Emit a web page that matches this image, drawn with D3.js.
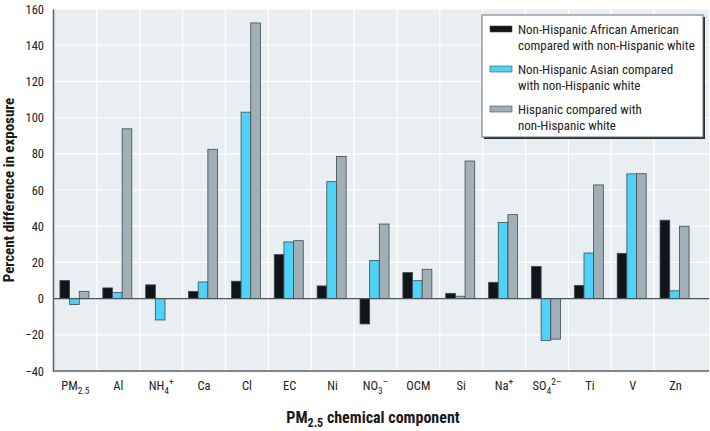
<!DOCTYPE html>
<html>
<head>
<meta charset="utf-8">
<script src="https://cdn.jsdelivr.net/npm/d3@7"></script>
<style>
  body { margin: 0; background: #fff; }
  svg { display: block; }
  text { font-family: "Liberation Sans Narrow", "Arial Narrow", "Roboto Condensed", sans-serif; }
</style>
</head>
<body>
<svg id="chart" width="710" height="431"></svg>
<script>
// ---- data ----
const categories = ["PM2.5", "Al", "NH4+", "Ca", "Cl", "EC", "Ni", "NO3-", "OCM", "Si", "Na+", "SO42-", "Ti", "V", "Zn"];
const seriesNames = [
  "Non-Hispanic African American compared with non-Hispanic white",
  "Non-Hispanic Asian compared with non-Hispanic white",
  "Hispanic compared with non-Hispanic white"
];
const africanAmerican = [10, 5.9, 7.6, 4, 9.6, 24.3, 7, -14, 14.4, 2.9, 9, 17.8, 7.3, 25, 43.3];
const asian = [-3.3, 3.3, -11.8, 9.2, 103, 31.3, 64.6, 21, 9.9, 1.3, 42, -23.2, 25.2, 68.9, 4.3];
const hispanic = [4, 93.8, 0, 82.5, 152.3, 32, 78.5, 41.2, 16.2, 76, 46.4, -22.4, 62.8, 69, 40];
const yTicks = [-40, -20, 0, 20, 40, 60, 80, 100, 120, 140, 160];
const colors = ["#111519", "#4fd2f7", "#a2afb7"];
// tick label parts: [main, sub, sup]
const tickParts = {
  "PM2.5": ["PM", "2.5", ""], "Al": ["Al", "", ""], "NH4+": ["NH", "4", "+"], "Ca": ["Ca", "", ""],
  "Cl": ["Cl", "", ""], "EC": ["EC", "", ""], "Ni": ["Ni", "", ""], "NO3-": ["NO", "3", "\u2013"],
  "OCM": ["OCM", "", ""], "Si": ["Si", "", ""], "Na+": ["Na", "", "+"], "SO42-": ["SO", "4", "2\u2013"],
  "Ti": ["Ti", "", ""], "V": ["V", "", ""], "Zn": ["Zn", "", ""]
};

const svg = d3.select("#chart");
const plot = { left: 53, right: 709, top: 9, bottom: 371 };

const y = d3.scaleLinear().domain([-40, 160]).range([plot.bottom, plot.top]);
const x = d3.scaleBand().domain(categories).range([54, 697]).paddingInner(0).paddingOuter(0);
const xs = d3.scaleBand().domain([0, 1, 2]).range([0, 29]);

// background
svg.append("rect").attr("x", plot.left).attr("y", plot.top)
  .attr("width", plot.right - plot.left).attr("height", plot.bottom - plot.top)
  .attr("fill", "#e9eef3");

// horizontal grid
svg.append("g").selectAll("line").data(yTicks.filter(d => d !== 0 && d !== -40)).join("line")
  .attr("x1", plot.left).attr("x2", plot.right)
  .attr("y1", d => y(d)).attr("y2", d => y(d))
  .attr("stroke", "#ffffff").attr("stroke-width", 1.2);

// vertical grid at band boundaries
svg.append("g").selectAll("line").data(categories.slice(1)).join("line")
  .attr("x1", d => x(d)).attr("x2", d => x(d))
  .attr("y1", plot.top).attr("y2", plot.bottom)
  .attr("stroke", "#ffffff").attr("stroke-width", 1.2);

// bars
const allSeries = [africanAmerican, asian, hispanic];
const barG = svg.append("g");
allSeries.forEach((vals, si) => {
  barG.append("g").selectAll("rect").data(categories.map((c, i) => ({ c, v: vals[i] })).filter(d => d.v !== 0)).join("rect")
    .attr("x", d => x(d.c) + (x.bandwidth() - 29) / 2 - 1 + xs(si))
    .attr("width", xs.bandwidth())
    .attr("y", d => y(Math.max(0, d.v)))
    .attr("height", d => Math.abs(y(d.v) - y(0)))
    .attr("fill", colors[si])
    .attr("stroke", "#3d4a52").attr("stroke-width", 0.8);
});

// zero line
svg.append("line").attr("x1", plot.left).attr("x2", plot.right)
  .attr("y1", y(0)).attr("y2", y(0)).attr("stroke", "#4a5358").attr("stroke-width", 1.2);

// axes lines
const yAxis = d3.axisLeft(y).tickValues(yTicks).tickSize(0).tickPadding(9).tickFormat(d => d < 0 ? "\u2212" + Math.abs(d) : d);
const gy = svg.append("g").attr("transform", `translate(${plot.left},0)`).call(yAxis);
gy.select(".domain").attr("stroke", "#5a6166").attr("stroke-width", 1.5);
gy.selectAll("text").attr("font-size", 12.5).attr("fill", "#222");

svg.append("line").attr("x1", plot.left).attr("x2", plot.right)
  .attr("y1", plot.bottom).attr("y2", plot.bottom).attr("stroke", "#5a6166").attr("stroke-width", 1.5);

// x tick labels
const xAxis = d3.axisBottom(x).tickSize(0).tickPadding(0).tickFormat("");
const gx = svg.append("g").attr("transform", `translate(0,${plot.bottom})`).call(xAxis);
gx.select(".domain").remove();
gx.selectAll(".tick").each(function(d) {
  const p = tickParts[d];
  const t = d3.select(this).append("text").attr("y", 19).attr("text-anchor", "middle")
    .attr("font-size", 12.5).attr("fill", "#222");
  t.append("tspan").text(p[0]);
  if (p[1]) t.append("tspan").attr("font-size", 9.5).attr("dy", 4).text(p[1]);
  if (p[2]) t.append("tspan").attr("font-size", 9.5).attr("dy", p[1] ? -9 : -5).text(p[2]);
});

// axis titles
svg.append("text").attr("transform", "translate(14,190) rotate(-90)")
  .attr("text-anchor", "middle").attr("font-weight", "bold").attr("font-size", 15).attr("fill", "#1a1a1a")
  .text("Percent difference in exposure");

const xt = svg.append("text").attr("x", 373).attr("y", 423).attr("text-anchor", "middle")
  .attr("font-weight", "bold").attr("font-size", 16).attr("fill", "#1a1a1a");
xt.append("tspan").text("PM");
xt.append("tspan").attr("font-size", 12).attr("dy", 4).text("2.5");
xt.append("tspan").attr("dy", -4).text(" chemical component");

// legend
const lg = svg.append("g");
lg.append("rect").attr("x", 484).attr("y", 17).attr("width", 221).attr("height", 122).attr("fill", "#2a2f33");
lg.append("rect").attr("x", 482).attr("y", 15).attr("width", 221).attr("height", 122)
  .attr("fill", "#ffffff").attr("stroke", "#6a7378").attr("stroke-width", 1);
const legendLines = [
  ["Non-Hispanic African American", "compared with non-Hispanic white"],
  ["Non-Hispanic Asian compared", "with non-Hispanic white"],
  ["Hispanic compared with", "non-Hispanic white"]
];
legendLines.forEach((lines, i) => {
  const gy0 = 29 + i * 40;
  lg.append("rect").attr("x", 490).attr("y", gy0 - 3).attr("width", 22).attr("height", 6)
    .attr("fill", colors[i]).attr("stroke", "#3d4a52").attr("stroke-width", 0.6);
  lines.forEach((ln, j) => {
    lg.append("text").attr("x", 518).attr("y", gy0 + 4.5 + j * 16.7)
      .attr("font-size", 13).attr("fill", "#222").text(ln);
  });
});
</script>
</body>
</html>
